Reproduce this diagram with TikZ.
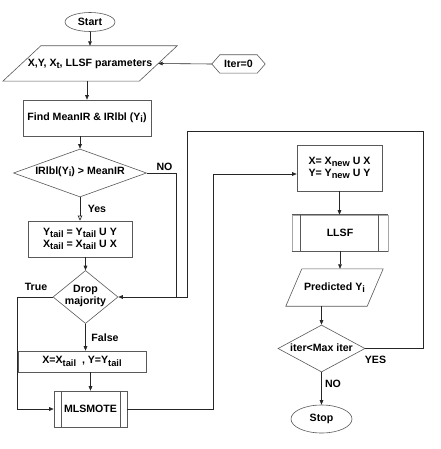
\documentclass[tikz,border=0pt]{standalone}
\usepackage{fontspec}
\setmainfont{Liberation Sans}
\usetikzlibrary{shapes.geometric,arrows.meta}
\newcommand{\sbs}[1]{\raisebox{-0.4ex}{\fontsize{9.3}{10}\selectfont #1}}
\begin{document}
\begin{tikzpicture}[x=1pt,y=-1pt,
  font=\fontsize{10.6}{12.5}\selectfont\bfseries,
  shp/.style={draw=black!65, line width=0.6pt},
  box/.style={shp, rectangle, inner sep=0pt, align=center},
  ghost/.style={rectangle, inner sep=0pt, align=center},
  diam/.style={shp, diamond, inner sep=0pt},
  oval/.style={shp, ellipse, inner sep=0pt},
  conn/.style={draw=black!85, line width=0.6pt},
  arr/.style={conn, -{Triangle[length=4.5pt,width=3.6pt]}},
  oarr/.style={conn, -{Triangle[open,length=5pt,width=4.5pt]}},
  lbl/.style={inner sep=0pt}
]
\fill[white] (0,0) rectangle (440,449);
\useasboundingbox (0,0) rectangle (440,449);

% left column
\node[oval, minimum width=50, minimum height=19] (start) at (90,22) {Start};
\node[ghost, minimum width=136, minimum height=35] (par) at (90,63.5) {X,Y, X\sbs{t}, LLSF parameters};
\draw[shp] ([xshift=-19]par.south west) -- ([xshift=19]par.north west) -- ([xshift=19]par.north east) -- ([xshift=-19]par.south east) -- cycle;

\node[ghost, minimum width=53, minimum height=18] (iter) at (238.5,64) {Iter=0};
\draw[shp] (iter.west) -- ([xshift=8]iter.north west) -- ([xshift=-8]iter.north east) -- (iter.east) -- ([xshift=-8]iter.south east) -- ([xshift=8]iter.south west) -- cycle;

\node[box, minimum width=128, minimum height=36] (find) at (87,118) {Find MeanIR \& IRlbl (Y\sbs{i})};
\node[diam, minimum width=133, minimum height=48] (dia1) at (80,173) {};
\node[ghost] (dia1t) at (80,172) {IRlbl(Y\sbs{i}) > MeanIR};
\node[box, minimum width=104, minimum height=36] (ytail) at (80,239) {Y\sbs{tail} = Y\sbs{tail} U Y\\[-1pt]X\sbs{tail} = X\sbs{tail} U X};
\node[diam, minimum width=65, minimum height=53] (drop) at (85.5,297) {};
\node[ghost] (dropt) at (85.5,296) {Drop\\[-1pt]majority};
\node[box, minimum width=128, minimum height=21] (xtail) at (82,361.5) {X=X\sbs{tail}\ \ , Y=Y\sbs{tail}};
\node[box, minimum width=73, minimum height=36] (mls) at (90.5,409) {MLSMOTE};
\draw[shp] ([xshift=8]mls.north west) -- ([xshift=8]mls.south west);
\draw[shp] ([xshift=-7]mls.north east) -- ([xshift=-7]mls.south east);

% right column
\node[box, minimum width=85, minimum height=46] (xnew) at (339.5,168) {X= X\sbs{new} U X\\[-1pt]Y= Y\sbs{new} U Y};
\node[box, minimum width=96, minimum height=36, draw=black!35] (llsf) at (340,233) {LLSF};
\draw[shp] (llsf.north west) -- (llsf.north east);
\draw[shp] (llsf.south west) -- (llsf.south east);
\draw[shp] ([xshift=9]llsf.north west) -- ([xshift=9]llsf.south west);
\draw[shp] ([xshift=-10]llsf.north east) -- ([xshift=-10]llsf.south east);
\node[ghost, minimum width=81, minimum height=37] (pred) at (334.5,287.5) {Predicted Y\sbs{i}};
\draw[shp] ([xshift=-8]pred.south west) -- ([xshift=8]pred.north west) -- ([xshift=8]pred.north east) -- ([xshift=-8]pred.south east) -- cycle;
\node[diam, minimum width=87, minimum height=47] (itd) at (321.5,348.5) {};
\node[ghost] (itdt) at (321.5,348) {iter<Max iter};
\node[oval, minimum width=61, minimum height=28] (stop) at (321.5,419) {Stop};

% junction coordinates
\coordinate (nj) at (176,297);
\coordinate (lr) at (423,131);
\coordinate (ll) at (187,131);
\coordinate (mj) at (213,174);

% connectors
\draw[arr] (start.south) -- (start.south |- par.north);
\draw[arr] (iter.west) -- (par.east);
\draw[arr] (par.south -| find.north) -- (find.north);
\draw[arr] (find.south -| dia1.north) -- (dia1.north);
\draw[oarr] (dia1.south) -- (ytail.north -| dia1.south);
\draw[arr] (ytail.south -| drop.north) -- (drop.north);
\draw[arr] (drop.south) -- (drop.south |- xtail.north);
\draw[arr] (xtail.south -| mls.north) -- (mls.north);
\draw[arr] (drop.west) -- (drop.west -| xtail.west) |- (mls.west);
\draw[conn] (dia1.east) -| (nj);
\draw[arr] (itd.east) -| (lr) -- (ll) |- (drop.east);
\draw[arr] (mls.east) -| (mj) -- (mj -| xnew.west);
\draw[arr] (xnew.south) -- (xnew.south |- llsf.north);
\draw[arr] (llsf.south) -- (llsf.south |- pred.north);
\draw[arr] (pred.south -| itd.north) -- (itd.north);
\draw[arr] (itd.south) -- (stop.north);

% labels
\node[lbl] (lno1) at (164.5,167) {NO};
\node[lbl] (lyes1) at (97,209) {Yes};
\node[lbl] (ltrue) at (36,287) {True};
\node[lbl] (lfalse) at (105,338) {False};
\node[lbl] (lyes2) at (375.5,360) {YES};
\node[lbl] (lno2) at (333,384) {NO};
\end{tikzpicture}
\end{document}
